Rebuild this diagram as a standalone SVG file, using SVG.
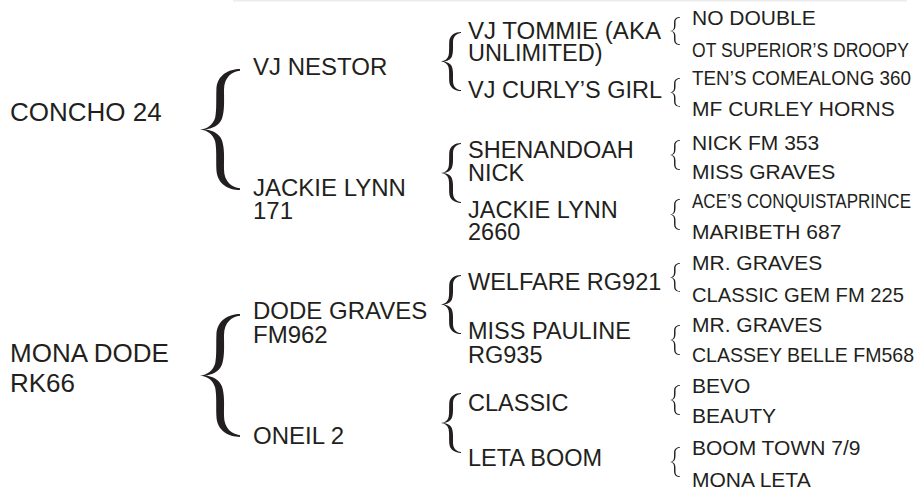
<svg xmlns="http://www.w3.org/2000/svg" xmlns:xlink="http://www.w3.org/1999/xlink" width="918" height="488" viewBox="0 0 918 488">
<style>
text{font-family:"Liberation Sans",Arial,Helvetica,sans-serif;fill:#231f20}
.c1{font-size:26px}
.c2{font-size:24px}
.c3{font-size:23.5px}
.c4{font-size:21px}
.c4n{font-size:20px}
.br{fill:#231f20}
</style>
<defs>
<path id="brace" d="M1,0 C0.72,0 0.42,0.05 0.41,0.17 C0.40,0.26 0.42,0.33 0.38,0.40 C0.33,0.46 0.18,0.495 0,0.5 C0.18,0.505 0.33,0.54 0.38,0.60 C0.42,0.67 0.40,0.74 0.41,0.83 C0.42,0.95 0.72,1 1,1 L1,0.985 C0.80,0.98 0.60,0.93 0.60,0.83 C0.60,0.74 0.62,0.66 0.55,0.59 C0.48,0.53 0.30,0.505 0.12,0.5 C0.30,0.495 0.48,0.47 0.55,0.41 C0.62,0.34 0.60,0.26 0.60,0.17 C0.60,0.07 0.80,0.02 1,0.015 Z"/>
<path id="brace-thin" d="M1,0 C0.72,0 0.42,0.05 0.41,0.17 C0.40,0.26 0.42,0.33 0.38,0.40 C0.33,0.46 0.18,0.495 0,0.5 C0.18,0.505 0.33,0.54 0.38,0.60 C0.42,0.67 0.40,0.74 0.41,0.83 C0.42,0.95 0.72,1 1,1 L1,0.975 C0.78,0.97 0.55,0.93 0.55,0.83 C0.55,0.74 0.57,0.66 0.50,0.59 C0.43,0.53 0.28,0.505 0.12,0.5 C0.28,0.495 0.43,0.47 0.50,0.41 C0.57,0.34 0.55,0.26 0.55,0.17 C0.55,0.07 0.78,0.03 1,0.025 Z"/>
</defs>
<rect x="233" y="0" width="674" height="1.5" fill="#ececec"/>
<g id="connectors" class="br">
<use xlink:href="#brace" transform="translate(200,69) scale(40,121)"/>
<use xlink:href="#brace" transform="translate(200,314) scale(40,123)"/>
<use xlink:href="#brace" transform="translate(441,32) scale(20,59)"/>
<use xlink:href="#brace" transform="translate(441,143) scale(20,60)"/>
<use xlink:href="#brace" transform="translate(441,275) scale(20,59)"/>
<use xlink:href="#brace" transform="translate(441,393) scale(20,60)"/>
<use xlink:href="#brace-thin" transform="translate(670,17) scale(10,28)"/>
<use xlink:href="#brace-thin" transform="translate(670,78) scale(10,29)"/>
<use xlink:href="#brace-thin" transform="translate(670,140) scale(10,30)"/>
<use xlink:href="#brace-thin" transform="translate(670,199) scale(10,31)"/>
<use xlink:href="#brace-thin" transform="translate(670,263) scale(10,29)"/>
<use xlink:href="#brace-thin" transform="translate(670,325) scale(10,30)"/>
<use xlink:href="#brace-thin" transform="translate(670,385) scale(10,30)"/>
<use xlink:href="#brace-thin" transform="translate(670,447) scale(10,30)"/>
</g>
<g id="n-concho24"><text class="c1" x="10" y="121">CONCHO 24</text></g>
<g id="n-monadode"><text class="c1" x="10" y="362">MONA DODE</text><text class="c1" x="10" y="392">RK66</text></g>
<g id="n-vjnestor"><text class="c2" x="253" y="75">VJ NESTOR</text></g>
<g id="n-jackielynn171"><text class="c2" x="253" y="196">JACKIE LYNN</text><text class="c2" x="253" y="219">171</text></g>
<g id="n-dodegraves"><text class="c2" x="253" y="319">DODE GRAVES</text><text class="c2" x="253" y="343">FM962</text></g>
<g id="n-oneil2"><text class="c2" x="253" y="444">ONEIL 2</text></g>
<g id="n-vjtommie"><text class="c3" x="468" y="39" textLength="193" lengthAdjust="spacingAndGlyphs">VJ TOMMIE (AKA</text><text class="c3" x="468" y="61">UNLIMITED)</text></g>
<g id="n-vjcurlysgirl"><text class="c3" x="468" y="98">VJ CURLY’S GIRL</text></g>
<g id="n-shenandoah"><text class="c3" x="468" y="158">SHENANDOAH</text><text class="c3" x="468" y="181">NICK</text></g>
<g id="n-jackielynn2660"><text class="c3" x="468" y="218">JACKIE LYNN</text><text class="c3" x="468" y="240">2660</text></g>
<g id="n-welfare"><text class="c3" x="468" y="290">WELFARE RG921</text></g>
<g id="n-misspauline"><text class="c3" x="468" y="339">MISS PAULINE</text><text class="c3" x="468" y="363">RG935</text></g>
<g id="n-classic"><text class="c3" x="468" y="411">CLASSIC</text></g>
<g id="n-letaboom"><text class="c3" x="468" y="466">LETA BOOM</text></g>
<g id="n-nodouble"><text class="c4" x="692" y="25">NO DOUBLE</text></g>
<g id="n-otsuperior"><text class="c4n" x="692" y="57" textLength="217" lengthAdjust="spacingAndGlyphs">OT SUPERIOR’S DROOPY</text></g>
<g id="n-tens"><text class="c4n" x="692" y="85" textLength="219" lengthAdjust="spacingAndGlyphs">TEN’S COMEALONG 360</text></g>
<g id="n-mfcurley"><text class="c4" x="692" y="116">MF CURLEY HORNS</text></g>
<g id="n-nickfm"><text class="c4" x="692" y="150">NICK FM 353</text></g>
<g id="n-missgraves"><text class="c4" x="692" y="179">MISS GRAVES</text></g>
<g id="n-aces"><text class="c4n" x="692" y="208" textLength="219" lengthAdjust="spacingAndGlyphs">ACE’S CONQUISTAPRINCE</text></g>
<g id="n-maribeth"><text class="c4" x="692" y="239">MARIBETH 687</text></g>
<g id="n-mrgraves1"><text class="c4" x="692" y="270">MR. GRAVES</text></g>
<g id="n-classicgem"><text class="c4" x="692" y="302" textLength="212" lengthAdjust="spacingAndGlyphs">CLASSIC GEM FM 225</text></g>
<g id="n-mrgraves2"><text class="c4" x="692" y="332">MR. GRAVES</text></g>
<g id="n-classeybelle"><text class="c4" x="692" y="362" textLength="222" lengthAdjust="spacingAndGlyphs">CLASSEY BELLE FM568</text></g>
<g id="n-bevo"><text class="c4" x="692" y="393">BEVO</text></g>
<g id="n-beauty"><text class="c4" x="692" y="423">BEAUTY</text></g>
<g id="n-boomtown"><text class="c4" x="692" y="455">BOOM TOWN 7/9</text></g>
<g id="n-monaleta"><text class="c4" x="692" y="487">MONA LETA</text></g>
</svg>
